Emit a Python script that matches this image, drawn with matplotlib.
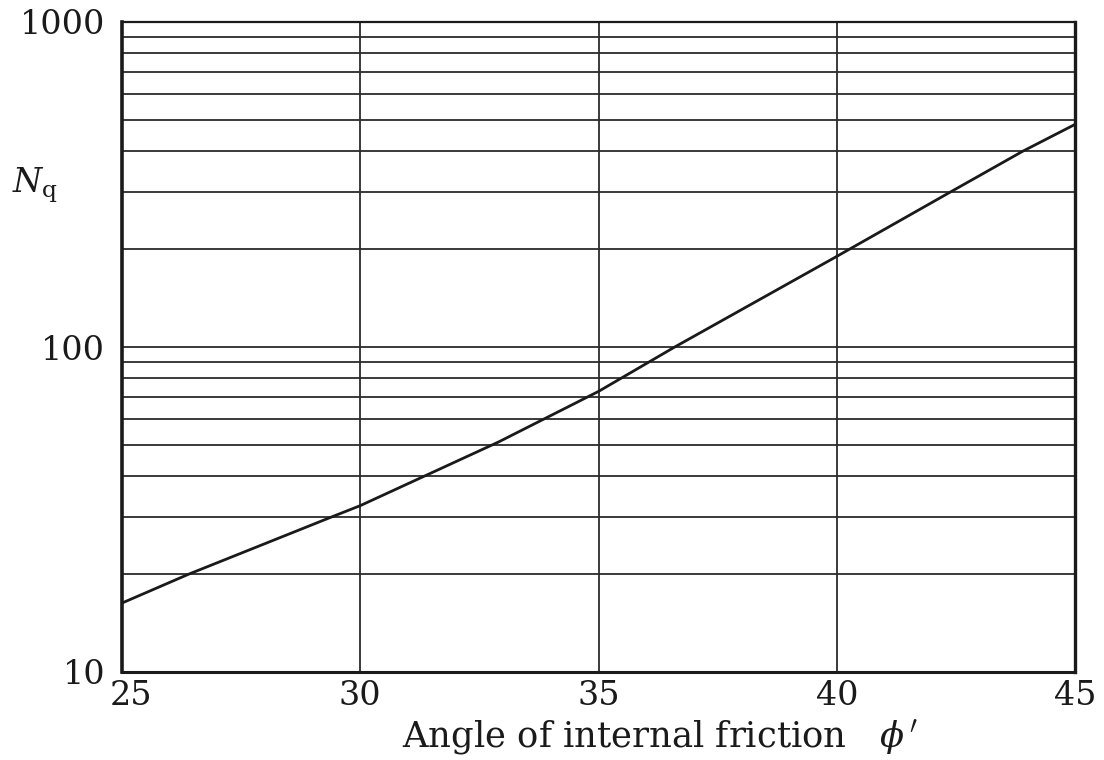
import matplotlib
matplotlib.use("Agg")
import matplotlib.pyplot as plt
import matplotlib.transforms as mtransforms
from matplotlib.ticker import FixedLocator, NullFormatter, NullLocator

# ---- data ----
angles = [25, 26.4, 29.4, 30, 32.9, 35, 36.6, 40, 42.3, 43.9, 45]
nq = [16.3, 20, 30, 32.5, 51, 73, 100, 190, 295, 400, 484]

x_ticks = [25, 30, 35, 40, 45]
x_tick_labels = ["25", "30", "35", "40", "45"]
y_ticks = [10, 100, 1000]
y_tick_labels = ["10", "100", "1000"]
y_minor = [20, 30, 40, 50, 60, 70, 80, 90, 200, 300, 400, 500, 600, 700, 800, 900]

x_label = r"Angle of internal friction   $\phi\,'$"
y_label = r"$N_\mathrm{q}$"

plt.rcParams["font.family"] = ["DejaVu Serif"]
plt.rcParams["mathtext.fontset"] = "dejavuserif"

W, H = 1104, 760
fig = plt.figure(figsize=(W / 100, H / 100), dpi=100)
ax = fig.add_axes([122 / W, 1 - 672 / H, (1075 - 122) / W, (672 - 22) / H])

ax.set_yscale("log")
ax.set_xlim(25, 45)
ax.set_ylim(10, 1000)

grid_col = "#2b2b2b"
for v in x_ticks[1:-1]:
    ax.axvline(v, color=grid_col, lw=1.3, zorder=1)
for v in y_minor + [100]:
    ax.axhline(v, color=grid_col, lw=1.3, zorder=1)

ax.plot(angles, nq, color="#1a1a1a", lw=2.0, zorder=3)

ax.xaxis.set_major_locator(FixedLocator(x_ticks))
ax.set_xticklabels(x_tick_labels)
ax.xaxis.set_minor_locator(NullLocator())
ax.yaxis.set_major_locator(FixedLocator(y_ticks))
ax.set_yticklabels(y_tick_labels)
ax.yaxis.set_minor_locator(NullLocator())
ax.yaxis.set_minor_formatter(NullFormatter())

ax.tick_params(axis="both", length=0, labelsize=24, labelcolor="#1a1a1a")
ax.tick_params(axis="x", pad=6)
ax.tick_params(axis="y", pad=12)

# shift "25" slightly right as in reference
lbl0 = ax.get_xticklabels()[0]
lbl0.set_transform(lbl0.get_transform() + mtransforms.ScaledTranslation(9 / 100, 0, fig.dpi_scale_trans))

for side, lw in [("left", 2.6), ("bottom", 2.2), ("right", 2.4), ("top", 1.6)]:
    ax.spines[side].set_linewidth(lw)
    ax.spines[side].set_color("#1a1a1a")

fig.text(402 / W, 1 - 746 / H, x_label, fontsize=25.5, ha="left", va="baseline", color="#1a1a1a")
fig.text(12 / W, 1 - 193 / H, y_label, fontsize=24, ha="left", va="baseline", color="#1a1a1a")

fig.savefig("out.png", dpi=100, facecolor="white")
